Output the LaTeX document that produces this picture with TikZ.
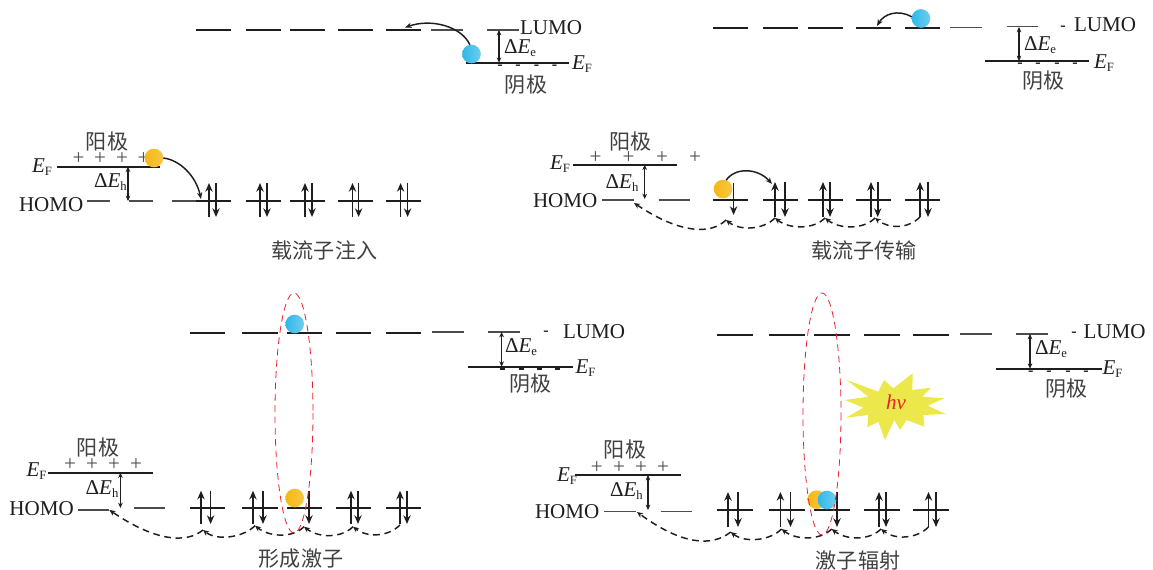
\documentclass[tikz,border=0pt]{standalone}
\usepackage{fontspec}
\setmainfont{Liberation Serif}
\newfontfamily\cjkfont{Noto Sans CJK SC}
\usepackage{tikz}
\usetikzlibrary{arrows.meta}
\newcommand{\SubLabel}[1]{\raisebox{-2.2pt}{\fontsize{9.5}{10}\selectfont #1}}
\newcommand{\GapLabel}[1]{Δ\textit{E}\SubLabel{#1}}
\newcommand{\FermiLabel}{\textit{E}\SubLabel{F}}
\definecolor{ElectronColor}{RGB}{47,184,232}
\definecolor{HoleColor}{RGB}{245,184,22}
\definecolor{FlashColor}{RGB}{236,232,76}
\definecolor{LineColor}{RGB}{30,30,30}
\definecolor{LoopColor}{RGB}{232,32,44}
\tikzset{
  lab/.style={inner sep=0pt,outer sep=0pt,text=LineColor,font=\fontsize{15.8}{18}\selectfont},
  cjklab/.style={lab,text=black!75,font=\fontsize{15.8}{18}\selectfont\cjkfont},
  signlab/.style={lab,text=black!70},
  minuslab/.style={lab,yshift=-1.5pt,font=\fontsize{12}{14}\selectfont\bfseries},
  levelline/.style={line width=1.5pt,color=LineColor},
  thinline/.style={line width=0.9pt,color=black!70},
  spinarrow/.style={-{Stealth[length=6.5pt,width=5.5pt]},line width=1.2pt,color=LineColor},
  gaparrow/.style={{Stealth[length=4pt,width=3.5pt]}-{Stealth[length=4pt,width=3.5pt]},line width=0.85pt,color=LineColor},
  jumpcurve/.style={-{Stealth[length=5pt,width=4pt]},line width=1.1pt,color=LineColor},
  hopcurve/.style={-{Stealth[length=4.5pt,width=4pt]},dash pattern=on 5pt off 3.5pt,line width=1.1pt,color=LineColor},
  excitonloop/.style={LoopColor,line width=0.6pt,dash pattern=on 5pt off 3.5pt},
  ball/.style={circle,minimum size=14pt,inner sep=0pt,outer sep=0pt},
  electron/.style={ball,left color=ElectronColor,right color=ElectronColor!70!white},
  hole/.style={ball,left color=HoleColor,right color=HoleColor!80!white}
}
\begin{document}
\begin{tikzpicture}[line cap=butt,x=0.75pt,y=-0.75pt]
  \useasboundingbox (0,0) rectangle (1153,570);
  % upper left: LUMO and cathode
  \foreach \a/\b/\y in {196/231/30,246/280.5/30,290/325/30,338/373/30,386/421/30,
    713/748/27.7,763/798/27.7,808/843/27.7,856/891/27.7,905/940/27.7,
    190/225/332.7,242/277.5/332.7,287/322/332.7,336/371/332.7,386/421/332.7,
    717/753/334.7,769/805/334.7,814/850/334.7,864/900/334.7,913/949/334.7,
    196/231/201,246/280.5/201,290/325/201,338/373/201,386/421/201,
    713/748/200,763/798/200,808/843/200,856/891/200,905/940/200,
    190/225/507.7,242/277.5/507.7,287/322/507.7,336/371/507.7,386/421/507.7,
    717/753/510,769/805/510,814/850/510,864/900/510,913/949/510}
  \draw[levelline] (\a,\y) -- (\b,\y);
  \foreach \a/\b/\y in {431/463/30,487/519/30,950/982/27.7,1006.5/1038/26.5,
    432/464/332,488/520/332,960/992/334,1016/1047.6/334,
    87/110/201,129/153/201,171.5/196/201,602/634/200,658.5/690/200,
    77.5/109/510,133.5/165/508,604/636/511.7,660.5/692/511.7}
  \draw[thinline] (\a,\y) -- (\b,\y);
  % electrode lines
  \foreach \a/\b/\y in {466/569/62.7,985/1088.5/61,468/573/366.7,996/1102/368.7,
    57/160/166.7,573/677/164.7,48/153/472.7,575/680.7/475}
  \draw[levelline] (\a,\y) -- (\b,\y);
  % spin pairs
  \foreach \u/\d/\t/\l in {209/216/183/217,260/267/183/217,305/312/183/217,352.5/358.6/183/217,400.6/407.6/183/217,
    775/785/182/217,823/830/182/217,871/877.7/182/217,920/928/182/217,
    201/210.6/490.7/524,253/263/490.7/524,351/358/490.7/524,400/407/490.7/524,
    728/738/492/527,780.4/790.5/492/527,879/886/492/527,928.5/936/492/527}
  {\draw[spinarrow] (\u,\l) -- (\u,\t);
   \draw[spinarrow] (\d,\t) -- (\d,\l);}
  \foreach \d/\t/\l in {733.6/183/215,309/490.7/524,837/492/527}
  \draw[spinarrow] (\d,\t) -- (\d,\l);
  % gaps
  \foreach \x/\t/\l in {499/30/62.7,1019/27/61,501.6/332/366.7,1030/334/368.7,
    128/166.7/201,644.7/164.7/199,120.4/472.7/508,648/475/510}
  \draw[gaparrow] (\x,\t) -- (\x,\l);
  % signs on the electrodes
  \foreach \x/\y in {500/65.7,518/65.7,536.5/65.7,554.5/65.7,1020/63.5,1038/63.5,1057/63.5,1075/63.5,
    1030.7/371,1049/371,1068/371,1086/371,546/331.7,1074/332.7,1063/26.7}
  \node[minuslab] at (\x,\y) {-};
  \foreach \x in {502,521,539,557.6}
  \draw[line width=2.2pt,color=LineColor] (\x-2.5,369) -- (\x+2.5,369);
  \foreach \x/\y in {78.5/159,100/159,122/159,143.5/159,595.5/157.7,628.6/157.7,662/157.7,695/157.7,
    70/465,92/465,114/465,136/465,596.7/468,619/468,641/468,663/468}
  \node[signlab] at (\x,\y) {+};
  % carriers
  \node[electron] (eleinj) at (471.5,54) {};
  \node[hole] (holeinj) at (154,158) {};
  \node[electron] (eletrans) at (921,18.5) {};
  \node[hole] (holetrans) at (723,189) {};
  \node[electron] (eleform) at (294.7,324) {};
  \node[hole] (holeform) at (294.7,498) {};
  \node[hole] (holerad) at (816.7,499.7) {};
  \node[electron] (elerad) at (827,500) {};
  % jumps
  \coordinate (eleinjend) at (405,27.5);
  \coordinate (holeinjend) at (201,199);
  \coordinate (eletransend) at (877,26);
  \coordinate (holetransend) at (772,184);
  \draw[jumpcurve] (eleinj.100) .. controls (462,27) and (432,18) .. (eleinjend);
  \draw[jumpcurve] (holeinj.0) .. controls (180,160) and (196,176) .. (holeinjend);
  \draw[jumpcurve] (eletrans.170) .. controls (898,9) and (884,14) .. (eletransend);
  \draw[jumpcurve] (holetrans.70) .. controls (735,167) and (758,168) .. (holetransend);
  % hops between the levels
  \foreach \sx/\sy/\ex/\ey in {920/217/875/218,875/218/825/218,825/218/775/218,775/218/726/220,
    400/525/353/526.7,353/526.7/304/526.7,304/526.7/255/525.7,255/525.7/203/530,
    928.5/527/881/529,881/529/831.7/529,831.7/529/781.6/529,781.6/529/730.7/532}
  \draw[hopcurve] (\sx,\sy) .. controls ({\sx-12},{\sy+12}) and ({\ex+14},{\ey+11}) .. (\ex,\ey);
  \draw[hopcurve] (726,220) .. controls (712,234) and (682,235) .. (634,203);
  \draw[hopcurve] (203,530) .. controls (186,544) and (155,541) .. (109.4,510);
  \draw[hopcurve] (730.7,532) .. controls (712,547) and (682,545) .. (637,512);
  % exciton loops
  \draw[excitonloop] (294,413) ellipse [x radius=19,y radius=120];
  \draw[excitonloop] (822,414) ellipse [x radius=19,y radius=121];
  % flash
  \fill[FlashColor] (846.7,380) -- (878.3,391.7) -- (884,380) -- (893.3,388.3) -- (912.7,373.3)
    -- (912.3,390) -- (931,387.7) -- (922.3,396.7) -- (944.3,398.3) -- (927.7,405.7)
    -- (945.7,414) -- (923.3,415) -- (924.3,426.7) -- (906.7,420) -- (900,430) -- (894.3,420)
    -- (885,440) -- (878.3,421.7) -- (867.3,427.3) -- (868.3,415) -- (846,417.7)
    -- (863.3,407.7) -- (845,400) -- (868.3,396.7) -- cycle;
  \node[lab,text=LoopColor] (flash) at (896,402) {\textit{hv}};
  % labels
  \node[lab,anchor=west] (lumoa) at (520,28) {LUMO};
  \node[lab,anchor=west] (lumob) at (1074,25) {LUMO};
  \node[lab,anchor=west] (lumoc) at (563,332) {LUMO};
  \node[lab,anchor=west] (lumod) at (1083.6,332) {LUMO};
  \node[lab,anchor=west] (homoa) at (19,205) {HOMO};
  \node[lab,anchor=west] (homob) at (533,201) {HOMO};
  \node[lab,anchor=west] (homoc) at (9.4,509) {HOMO};
  \node[lab,anchor=west] (homod) at (535,512) {HOMO};
  \node[lab,anchor=west] (gapea) at (504,48) {\GapLabel{e}};
  \node[lab,anchor=west] (gapeb) at (1024,45) {\GapLabel{e}};
  \node[lab,anchor=west] (gapec) at (505,347) {\GapLabel{e}};
  \node[lab,anchor=west] (gaped) at (1035,349) {\GapLabel{e}};
  \node[lab,anchor=west] (gapha) at (94,182) {\GapLabel{h}};
  \node[lab,anchor=west] (gaphb) at (605.6,183) {\GapLabel{h}};
  \node[lab,anchor=west] (gaphc) at (85.7,489) {\GapLabel{h}};
  \node[lab,anchor=west] (gaphd) at (610,491) {\GapLabel{h}};
  \node[lab,anchor=west] (fermia) at (572,64) {\FermiLabel};
  \node[lab,anchor=west] (fermib) at (1094,63) {\FermiLabel};
  \node[lab,anchor=west] (fermic) at (575.5,368) {\FermiLabel};
  \node[lab,anchor=west] (fermid) at (1102.6,369) {\FermiLabel};
  \node[lab,anchor=west] (fermie) at (32,167) {\FermiLabel};
  \node[lab,anchor=west] (fermif) at (550,164) {\FermiLabel};
  \node[lab,anchor=west] (fermig) at (26.5,471) {\FermiLabel};
  \node[lab,anchor=west] (fermih) at (557,476) {\FermiLabel};
  \node[cjklab] (cathodea) at (526,85) {阴极};
  \node[cjklab] (cathodeb) at (1043.6,81) {阴极};
  \node[cjklab] (cathodec) at (530.6,384) {阴极};
  \node[cjklab] (cathoded) at (1066.6,389) {阴极};
  \node[cjklab] (anodea) at (107,142) {阳极};
  \node[cjklab] (anodeb) at (630.6,142) {阳极};
  \node[cjklab] (anodec) at (98,448) {阳极};
  \node[cjklab] (anoded) at (625,450) {阳极};
  \node[cjklab] (titlea) at (324.5,250) {载流子注入};
  \node[cjklab] (titleb) at (864,250) {载流子传输};
  \node[cjklab] (titlec) at (301,559) {形成激子};
  \node[cjklab] (titled) at (858,560) {激子辐射};
\end{tikzpicture}
\end{document}
